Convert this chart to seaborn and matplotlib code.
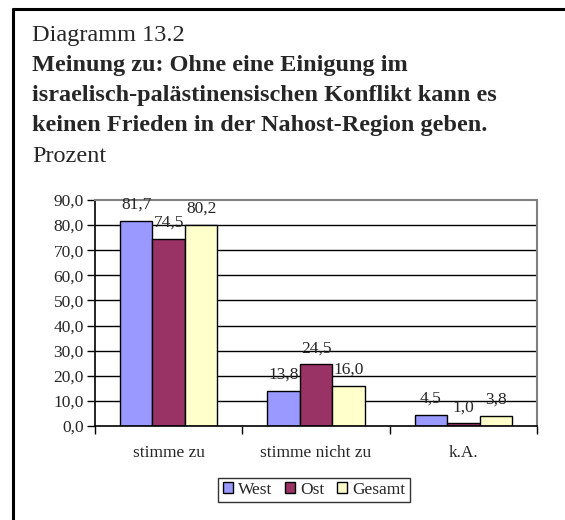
import matplotlib
matplotlib.use("Agg")
import matplotlib.pyplot as plt
import seaborn as sns
import pandas as pd
from matplotlib.lines import Line2D
from matplotlib.patches import Patch

categories = ["stimme zu", "stimme nicht zu", "k.A."]
series = ["West", "Ost", "Gesamt"]
west = [81.7, 13.8, 4.5]
ost = [74.5, 24.5, 1.0]
gesamt = [80.2, 16.0, 3.8]
yticks = [0, 10, 20, 30, 40, 50, 60, 70, 80, 90]
colors = ["#9999FF", "#993366", "#FFFFCC"]

sns.set_theme(style="white")
plt.rcParams["font.family"] = ["Liberation Serif", "DejaVu Serif"]

df = pd.DataFrame({
    "Kategorie": categories * 3,
    "Serie": [s for s in series for _ in categories],
    "Wert": west + ost + gesamt,
})

W, H = 565, 520
fig = plt.figure(figsize=(W / 100, H / 100), dpi=100)
ax = fig.add_axes([95 / W, 1 - 426 / H, (537 - 95) / W, (426 - 200) / H])

sns.barplot(data=df, x="Kategorie", y="Wert", hue="Serie", order=categories,
            hue_order=series, palette=colors, width=0.66, edgecolor="black",
            linewidth=1.0, saturation=1, ax=ax, legend=False, errorbar=None)

for c in ax.containers:
    ax.bar_label(c, labels=[f"{v:.1f}".replace(".", ",") for v in c.datavalues],
                 padding=6, fontsize=12.5)

ax.set_ylim(0, 90)
ax.set_xlim(-0.5, 2.5)
ax.set_yticks(yticks)
ax.set_yticklabels([f"{v:.1f}".replace(".", ",") for v in yticks], fontsize=12.5)
ax.set_xticks([-0.5, 0.5, 1.5, 2.5])
ax.set_xticklabels([])
ax.set_xticks([0, 1, 2], minor=True)
ax.set_xticklabels(categories, minor=True, fontsize=12.5)
ax.tick_params(axis="x", which="major", length=6, width=1, color="black", direction="out", bottom=True)
ax.tick_params(axis="x", which="minor", length=0, pad=14)
ax.tick_params(axis="y", length=6, width=1, color="black", direction="out", left=True, pad=2)
ax.set_xlabel("")
ax.set_ylabel("")
ax.grid(False)
for v in yticks[1:-1]:
    ax.axhline(v, color="black", lw=1, zorder=0)
ax.set_axisbelow(True)
for s in ["left", "bottom"]:
    ax.spines[s].set_color("black")
    ax.spines[s].set_linewidth(1.2)
for s in ["top", "right"]:
    ax.spines[s].set_visible(True)
    ax.spines[s].set_color("#808080")
    ax.spines[s].set_linewidth(1.5)

handles = [Patch(facecolor=c, edgecolor="black", linewidth=1) for c in colors]
leg = fig.legend(handles, series, loc="center", bbox_to_anchor=(314 / W, 1 - 490 / H),
                 ncol=3, frameon=True, fontsize=12.5, handlelength=0.6, handleheight=0.6,
                 handletextpad=0.3, columnspacing=0.7, borderpad=0.25, fancybox=False)
leg.get_frame().set_edgecolor("black")
leg.get_frame().set_linewidth(1)

# Titles
tfs = 17.5
fig.text(32 / W, 1 - 41 / H, "Diagramm 13.2", fontsize=tfs, va="baseline", ha="left")
fig.text(32 / W, 1 - 71 / H, "Meinung zu: Ohne eine Einigung im", fontsize=tfs,
         fontweight="bold", va="baseline", ha="left")
fig.text(32 / W, 1 - 101 / H, "israelisch-palästinensischen Konflikt kann es", fontsize=tfs,
         fontweight="bold", va="baseline", ha="left")
fig.text(32 / W, 1 - 131 / H, "keinen Frieden in der Nahost-Region geben.", fontsize=tfs,
         fontweight="bold", va="baseline", ha="left")
fig.text(32 / W, 1 - 162 / H, "Prozent", fontsize=tfs, va="baseline", ha="left")

# Outer border (extends off right and bottom edges)
fig.add_artist(Line2D([13 / W, 13 / W], [0, 1 - 9 / H], color="black", lw=2.2, transform=fig.transFigure))
fig.add_artist(Line2D([13 / W, 1], [1 - 9 / H, 1 - 9 / H], color="black", lw=2.2, transform=fig.transFigure))

fig.savefig("out.png", dpi=100)
